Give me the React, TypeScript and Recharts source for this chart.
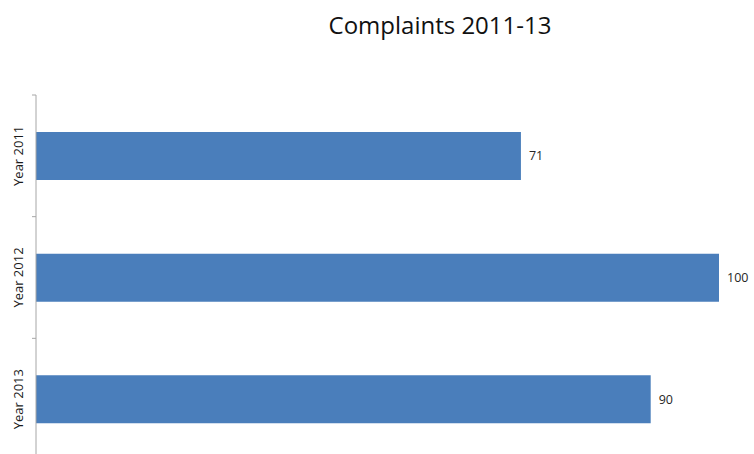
import React from 'react';
import { BarChart, Bar, XAxis, YAxis, LabelList } from 'recharts';

const categories = ['Year 2011', 'Year 2012', 'Year 2013'];
const complaints = [71, 100, 90];
const chartTitle = 'Complaints 2011-13';

const data = categories.map((name, i) => ({ name, value: complaints[i] }));

const FONT = '"Open Sans", "Liberation Sans", sans-serif';
const AXIS_COLOR = '#a6a6a6';

const YTick = (props: any) => {
  const { y, payload, index } = props;
  const half = payload && payload.offset ? payload.offset : 60;
  const lineX = 36;
  const items: any[] = [];
  items.push(
    <line key="t" x1={lineX - 4} x2={lineX} y1={y - half} y2={y - half} stroke={AXIS_COLOR} strokeWidth={1} />
  );
  if (index === categories.length - 1) {
    items.push(
      <line key="b" x1={lineX - 4} x2={lineX} y1={y + half} y2={y + half} stroke={AXIS_COLOR} strokeWidth={1} />
    );
  }
  items.push(
    <text
      key="l"
      x={0}
      y={0}
      transform={`translate(${23}, ${y}) rotate(-90)`}
      textAnchor="middle"
      fontFamily={FONT}
      fontSize={13}
      fill="#1a1a1a"
    >
      {payload.value}
    </text>
  );
  return <g>{items}</g>;
};

export default function App() {
  return (
    <div style={{ position: 'absolute', left: 0, top: 0, width: 754, height: 454, overflow: 'hidden', background: '#fff' }}>
      <div
        style={{
          position: 'absolute',
          left: 240,
          width: 400,
          top: 8,
          textAlign: 'center',
          fontFamily: FONT,
          fontSize: 24,
          color: '#111111',
          lineHeight: '34px',
        }}
      >
        {chartTitle}
      </div>
      <BarChart
        width={754}
        height={460}
        data={data}
        layout="vertical"
        margin={{ top: 95, right: 35, bottom: 0, left: 0 }}
      >
        <XAxis type="number" domain={[0, 100]} hide />
        <YAxis
          type="category"
          dataKey="name"
          width={36}
          axisLine={{ stroke: AXIS_COLOR }}
          tickLine={false}
          tick={<YTick />}
          interval={0}
        />
        <Bar dataKey="value" fill="#4a7ebb" barSize={48} isAnimationActive={false}>
          <LabelList
            dataKey="value"
            position="right"
            offset={8}
            fontFamily={FONT}
            fontSize={12.5}
            fill="#262626"
          />
        </Bar>
      </BarChart>
    </div>
  );
}
